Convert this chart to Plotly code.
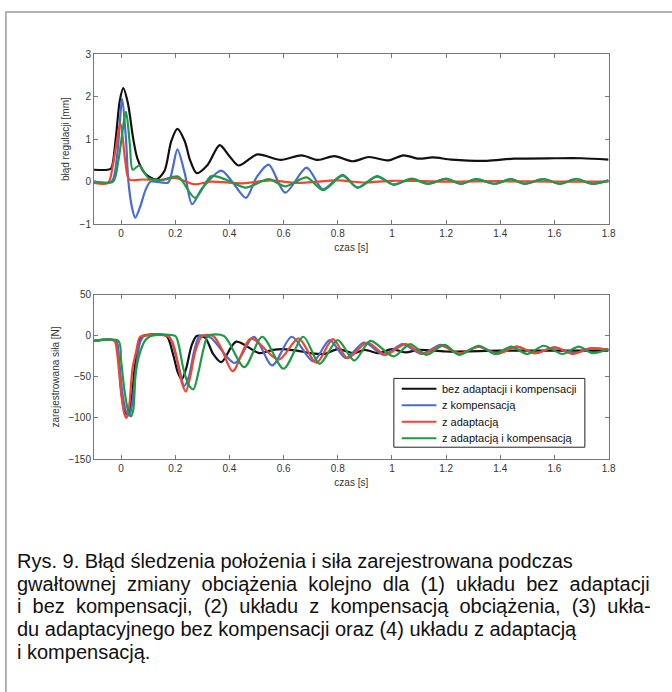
import plotly.graph_objects as go

# ---------------- data: top panel (tracking error, mm) ----------------
err_black_t = [-0.1, -0.05, -0.036, -0.02, -0.005, 0.008, 0.025, 0.045, 0.06, 0.09, 0.13, 0.16, 0.185, 0.208, 0.235, 0.255, 0.279, 0.32, 0.364, 0.40, 0.434, 0.503, 0.59, 0.666, 0.727, 0.788, 0.855, 0.915, 0.988, 1.042, 1.10, 1.15, 1.22, 1.35, 1.45, 1.6, 1.7, 1.8]
err_black_v = [0.28, 0.28, 0.32, 1.0, 1.9, 2.2, 1.85, 1.0, 0.55, 0.18, 0.05, 0.25, 0.95, 1.24, 0.95, 0.5, 0.2, 0.4, 0.86, 0.6, 0.38, 0.64, 0.51, 0.62, 0.51, 0.6, 0.48, 0.58, 0.5, 0.62, 0.54, 0.57, 0.52, 0.49, 0.54, 0.55, 0.55, 0.52]

err_blue_t = [-0.1, -0.035, -0.015, 0.004, 0.018, 0.027, 0.04, 0.052, 0.07, 0.09, 0.109, 0.174, 0.19, 0.208, 0.235, 0.262, 0.3, 0.37, 0.41, 0.461, 0.50, 0.545, 0.606, 0.685, 0.745, 0.818, 0.873, 0.945, 1.006, 1.073, 1.133, 1.20, 1.255, 1.31, 1.38, 1.44, 1.49, 1.56, 1.62, 1.68, 1.74, 1.8]
err_blue_v = [0.0, 0.0, 0.6, 1.95, 1.0, 0.0, -0.6, -0.85, -0.6, -0.2, 0.0, -0.02, 0.3, 0.76, 0.2, -0.53, -0.15, 0.26, 0.0, -0.38, 0.1, 0.4, -0.26, 0.33, -0.18, 0.16, -0.14, 0.12, -0.07, 0.06, -0.05, 0.06, -0.05, 0.06, -0.05, 0.06, -0.05, 0.06, -0.05, 0.06, -0.05, 0.03]

err_red_t = [-0.1, -0.048, -0.03, -0.002, 0.015, 0.03, 0.08, 0.15, 0.2, 0.27, 0.33, 0.45, 0.55, 0.65, 0.8, 0.9, 1.0, 1.2, 1.4, 1.6, 1.8]
err_red_v = [-0.03, -0.03, 0.4, 1.36, 0.5, 0.05, 0.05, 0.04, 0.09, -0.06, 0.0, -0.04, 0.03, -0.03, 0.03, -0.02, 0.02, 0.0, 0.01, 0.0, 0.0]

err_green_t = [-0.1, -0.03, -0.01, 0.018, 0.032, 0.043, 0.067, 0.102, 0.15, 0.21, 0.273, 0.333, 0.39, 0.461, 0.545, 0.606, 0.685, 0.745, 0.818, 0.873, 0.945, 1.006, 1.073, 1.133, 1.20, 1.255, 1.31, 1.38, 1.44, 1.49, 1.56, 1.62, 1.68, 1.74, 1.8]
err_green_v = [0.0, 0.0, 0.5, 1.64, 0.9, 0.28, 0.38, 0.08, 0.04, 0.12, -0.38, 0.13, 0.04, -0.14, 0.06, -0.11, 0.1, -0.2, 0.14, -0.14, 0.13, -0.07, 0.07, -0.05, 0.07, -0.05, 0.06, -0.05, 0.06, -0.05, 0.06, -0.05, 0.06, -0.05, 0.03]

# ---------------- data: bottom panel (recorded force, N) ----------------
f_black_t = [-0.1, -0.02, -0.01, 0.0, 0.012, 0.025, 0.038, 0.05, 0.068, 0.08, 0.167, 0.19, 0.21, 0.224, 0.24, 0.26, 0.279, 0.31, 0.34, 0.37, 0.425, 0.51, 0.56, 0.6, 0.65, 0.7, 0.75, 0.8, 0.86, 0.9, 0.95, 1.0, 1.05, 1.1, 1.2, 1.4, 1.6, 1.8]
f_black_v = [-6, -6, -25, -65, -90, -96, -80, -40, -5, 0, 0, -20, -45, -53, -40, -12, 0, -2, -22, -32, -7, -21, -17, -16, -18, -21, -22, -16, -21, -17, -21, -16, -20, -17, -19, -18, -18, -18]

f_blue_t = [-0.1, -0.02, -0.008, 0.005, 0.018, 0.03, 0.042, 0.055, 0.07, 0.085, 0.175, 0.195, 0.215, 0.233, 0.25, 0.27, 0.29, 0.33, 0.42, 0.49, 0.558, 0.63, 0.709, 0.77, 0.83, 0.897, 0.97, 1.04, 1.11, 1.18, 1.25, 1.32, 1.39, 1.46, 1.53, 1.6, 1.67, 1.74, 1.8]
f_blue_v = [-6, -6, -30, -70, -92, -97, -80, -40, -8, 0, 0, -15, -40, -61, -50, -18, 0, -2, -33, -1, -36, -1, -31, -5, -27, -8, -23, -10, -22, -11, -22, -13, -21, -13, -21, -14, -21, -15, -17]

f_red_t = [-0.1, -0.025, -0.015, -0.008, 0.002, 0.012, 0.02, 0.03, 0.042, 0.055, 0.068, 0.08, 0.17, 0.19, 0.21, 0.225, 0.239, 0.255, 0.275, 0.3, 0.34, 0.37, 0.412, 0.48, 0.582, 0.655, 0.721, 0.782, 0.836, 0.909, 0.976, 1.05, 1.115, 1.18, 1.25, 1.32, 1.39, 1.46, 1.53, 1.6, 1.67, 1.73, 1.8]
f_red_v = [-6, -6, -20, -42, -75, -95, -100, -85, -40, -20, -2, 0, 0, -8, -35, -58, -68, -50, -18, 0, 0, -15, -43, -3, -29, -3, -33, -4, -27, -8, -23, -10, -22, -12, -21, -13, -22, -13, -21, -14, -22, -15, -17]

f_green_t = [-0.1, -0.01, 0.0, 0.012, 0.025, 0.036, 0.045, 0.054, 0.07, 0.09, 0.11, 0.2, 0.212, 0.23, 0.25, 0.267, 0.285, 0.305, 0.321, 0.38, 0.455, 0.521, 0.6, 0.673, 0.733, 0.8, 0.861, 0.921, 1.006, 1.067, 1.127, 1.194, 1.248, 1.32, 1.38, 1.44, 1.5, 1.56, 1.63, 1.69, 1.74, 1.8]
f_green_v = [-6, -6, -30, -65, -90, -98, -90, -45, -20, -5, 0, 0, -10, -40, -60, -65, -45, -15, 0, 0, -38, -1, -40, -1, -34, -5, -30, -6, -25, -10, -23, -11, -23, -12, -22, -13, -22, -12, -22, -13, -21, -16]

series_names = ["bez adaptacji i kompensacji", "z kompensacją", "z adaptacją", "z adaptacją i kompensacją"]
series_colors = ["#111111", "#4a6bd4", "#f0452e", "#1f9a45"]

x_ticks = [0, 0.2, 0.4, 0.6, 0.8, 1, 1.2, 1.4, 1.6, 1.8]
x_ticktext = ["0", "0.2", "0.4", "0.6", "0.8", "1", "1.2", "1.4", "1.6", "1.8"]
err_ticks = [-1, 0, 1, 2, 3]
force_ticks = [-150, -100, -50, 0, 50]

# caption lines; lines 2 and 3 are justified in the original (wider word gaps)
caption_lines = [
    "Rys. 9. Błąd śledzenia położenia i siła zarejestrowana podczas",
    "gwałtownej zmiany obciążenia kolejno dla (1) układu bez adaptacji",
    "i bez kompensacji, (2) układu z kompensacją obciążenia, (3) ukła-",
    "du adaptacyjnego bez kompensacji oraz (4) układu z adaptacją",
    "i kompensacją.",
]
caption_justified = [False, True, True, False, False]

# ---------------- figure ----------------
W, H = 672, 692
FONT = "Liberation Sans, Arial, sans-serif"
fig = go.Figure()

top_sets = [(err_black_t, err_black_v), (err_blue_t, err_blue_v), (err_red_t, err_red_v), (err_green_t, err_green_v)]
bot_sets = [(f_black_t, f_black_v), (f_blue_t, f_blue_v), (f_red_t, f_red_v), (f_green_t, f_green_v)]

for i, (t, v) in enumerate(top_sets):
    fig.add_trace(go.Scatter(x=t, y=v, mode="lines", line=dict(color=series_colors[i], width=2.2, shape="spline", smoothing=0.8),
                             name=series_names[i], showlegend=False, xaxis="x", yaxis="y"))
for i, (t, v) in enumerate(bot_sets):
    fig.add_trace(go.Scatter(x=t, y=v, mode="lines", line=dict(color=series_colors[i], width=2.2, shape="spline", smoothing=0.8),
                             name=series_names[i], showlegend=False, xaxis="x2", yaxis="y2"))

x0, x1 = 95 / W, 615 / W
def px(p):
    return p / W
def py(p):
    return 1 - p / H

axis_common = dict(showline=True, linecolor="#777777", linewidth=1, mirror="ticks", ticks="inside", ticklen=4,
                   tickcolor="#777777", showgrid=False, zeroline=False,
                   tickfont=dict(family=FONT, size=10, color="#333333"))
title_font = dict(family=FONT, size=10, color="#333333")

fig.update_layout(
    width=W, height=H, margin=dict(l=0, r=0, t=0, b=0),
    paper_bgcolor="white", plot_bgcolor="white",
    xaxis=dict(domain=[x0, x1], range=[-0.1, 1.8], tickvals=x_ticks, ticktext=x_ticktext, anchor="y",
               title=dict(text="czas [s]", font=title_font, standoff=5), **axis_common),
    yaxis=dict(domain=[py(222), py(49)], range=[-1, 3], tickvals=err_ticks, anchor="x",
               title=dict(text="błąd regulacji [mm]", font=title_font, standoff=8), **axis_common),
    xaxis2=dict(domain=[x0, x1], range=[-0.1, 1.8], tickvals=x_ticks, ticktext=x_ticktext, anchor="y2",
                title=dict(text="czas [s]", font=title_font, standoff=5), **axis_common),
    yaxis2=dict(domain=[py(461), py(294)], range=[-150, 50], tickvals=force_ticks, anchor="x2",
                title=dict(text="zarejestrowana siła [N]", font=title_font, standoff=6), **axis_common),
    showlegend=False,
)

# outer frame
fig.add_shape(type="rect", xref="paper", yref="paper", x0=px(6), y0=-0.05, x1=1.05, y1=py(6),
              line=dict(color="#9a9a9a", width=1.5), fillcolor="rgba(0,0,0,0)", layer="below")

# legend box (drawn as in the original MATLAB figure)
fig.add_shape(type="rect", xref="paper", yref="paper", x0=px(398), y0=py(449), x1=px(591), y1=py(379),
              line=dict(color="#222222", width=1), fillcolor="white", layer="above")
legend_y0, legend_dy = 389.5, 16.8
for i, name in enumerate(series_names):
    yy = py(legend_y0 + legend_dy * i)
    fig.add_shape(type="line", xref="paper", yref="paper", x0=px(406), x1=px(441), y0=yy, y1=yy,
                  line=dict(color=series_colors[i], width=2.2), layer="above")
    fig.add_annotation(text=name, xref="paper", yref="paper", x=px(445), y=yy, xanchor="left", yanchor="middle",
                       showarrow=False, font=dict(family=FONT, size=11, color="#111111"))

# caption
for k, line in enumerate(caption_lines):
    txt = line.replace(" ", " \u00a0") if caption_justified[k] else line
    fig.add_annotation(text=txt, xref="paper", yref="paper", x=px(15), y=py(565 + 23 * k),
                       xanchor="left", yanchor="middle", showarrow=False, align="left",
                       font=dict(family=FONT, size=20, color="#111111"))

fig.write_html("out.html", config={"displayModeBar": False},
               post_script="document.body.style.margin='0';document.body.style.overflow='hidden';")
